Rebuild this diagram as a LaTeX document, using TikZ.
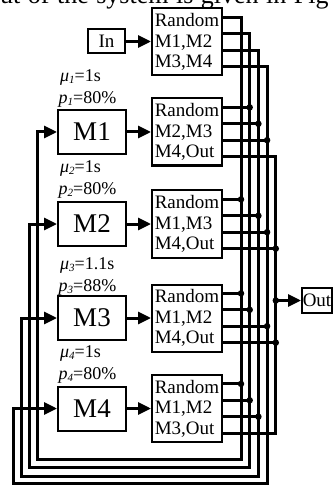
\documentclass[tikz,border=0pt]{standalone}
\usepackage{fontspec}
\setmainfont{Liberation Serif}
\usetikzlibrary{arrows.meta}
\newcommand\lsub[1]{\raisebox{-2.5bp}{\fontsize{11bp}{11bp}\selectfont\itshape #1}}
\begin{document}
\begin{tikzpicture}[x=1bp,y=-1bp,
  wire/.style={line width=3bp},
  box/.style={draw, line width=2bp, inner sep=0pt},
  router/.style={box, minimum width=70bp, minimum height=67bp, align=left, inner xsep=2bp, font=\fontsize{19bp}{20.5bp}\selectfont},
  mach/.style={box, minimum width=68bp, minimum height=44bp, font=\fontsize{27bp}{27bp}\selectfont},
  smallbox/.style={box, font=\fontsize{19bp}{19bp}\selectfont},
  arr/.style={wire, -{Triangle[length=13bp,width=12bp]}},
  jdot/.style={circle, fill, inner sep=0pt, minimum size=6.5bp},
  lab/.style={anchor=west, inner sep=0pt, font=\fontsize{18bp}{18bp}\selectfont},
]
\useasboundingbox (0,0) rectangle (333,485);
\begin{scope}
\clip (0,0) rectangle (333,485);
\node[anchor=base west, inner sep=0pt, font=\fontsize{26bp}{26bp}\selectfont] (toptext) at (0,3.5) {\spaceskip=7.5bp\relax ut of the system is given in Fig};
\end{scope}

% boxes
\node[smallbox, minimum width=37bp, minimum height=24bp] (In) at (106.5,41.5) {In};
\node[router] (R0) at (187,42) {Random\\M1,M2\\M3,M4};
\node[router] (R1) at (187,132) {Random\\M2,M3\\M4,Out};
\node[router] (R2) at (187,224) {Random\\M1,M3\\M4,Out};
\node[router] (R3) at (187,318) {Random\\M1,M2\\M4,Out};
\node[router] (R4) at (187,408.5) {Random\\M1,M2\\M3,Out};
\node[mach] (M1) at (92,132) {M1};
\node[mach] (M2) at (92,224) {M2};
\node[mach] (M3) at (92,318) {M3};
\node[mach] (M4) at (92,408.5) {M4};
\node[smallbox, minimum width=30bp, minimum height=25bp] (Out) at (317,300.5) {Out};

% labels
\node[lab] (mu1) at (60,77) {\textit{μ}\lsub{1}=1s};
\node[lab] (p1) at (58.5,99) {\textit{p}\lsub{1}=80\%};
\node[lab] (mu2) at (60,168) {\textit{μ}\lsub{2}=1s};
\node[lab] (p2) at (58.5,190) {\textit{p}\lsub{2}=80\%};
\node[lab] (mu3) at (60,265) {\textit{μ}\lsub{3}=1.1s};
\node[lab] (p3) at (58.5,287) {\textit{p}\lsub{3}=88\%};
\node[lab] (mu4) at (60,353) {\textit{μ}\lsub{4}=1s};
\node[lab] (p4) at (58.5,375) {\textit{p}\lsub{4}=80\%};

% router outputs
\foreach \r in {0,...,4}{
  \coordinate (R\r o1) at ([yshift=24.6bp]R\r.east);
  \coordinate (R\r o2) at ([yshift=8.2bp]R\r.east);
  \coordinate (R\r o3) at ([yshift=-8.2bp]R\r.east);
  \coordinate (R\r o4) at ([yshift=-24.6bp]R\r.east);
}
% bus coordinates
\coordinate (b1) at (241,459);
\coordinate (b2) at (249.7,467.5);
\coordinate (b3) at (258.4,476);
\coordinate (b4) at (267.1,483);
\coordinate (b5) at (275.8,0);
\coordinate (f1) at (37,459);
\coordinate (f2) at (29,467.5);
\coordinate (f3) at (21,476);
\coordinate (f4) at (13,483);

% feedback buses
\draw[arr] (R0o1) -| (b1) -- (f1) |- (M1.west);
\draw[arr] (R0o2) -| (b2) -- (f2) |- (M2.west);
\draw[arr] (R0o3) -| (b3) -- (f3) |- (M3.west);
\draw[arr] (R0o4) -| (b4) -- (f4) |- (M4.west);
% out bus
\draw[wire] (R1o4) -| (b5 |- R4o4) -- (R4o4);
\draw[arr] (b5 |- Out) -- (Out.west);
\node[jdot] at (b5 |- Out) {};

% junctions
\foreach \r/\o/\b in {1/1/b2,1/2/b3,1/3/b4,2/1/b1,2/2/b3,2/3/b4,2/4/b5,3/1/b1,3/2/b2,3/3/b4,3/4/b5,4/1/b1,4/2/b2,4/3/b3}{
  \draw[wire] (R\r o\o) -- (\b |- R\r o\o);
  \node[jdot] at (\b |- R\r o\o) {};
}

% forward arrows
\draw[arr] (In) -- (R0.west |- In);
\draw[arr] (M1) -- (R1);
\draw[arr] (M2) -- (R2);
\draw[arr] (M3) -- (R3);
\draw[arr] (M4) -- (R4);
\end{tikzpicture}
\end{document}
